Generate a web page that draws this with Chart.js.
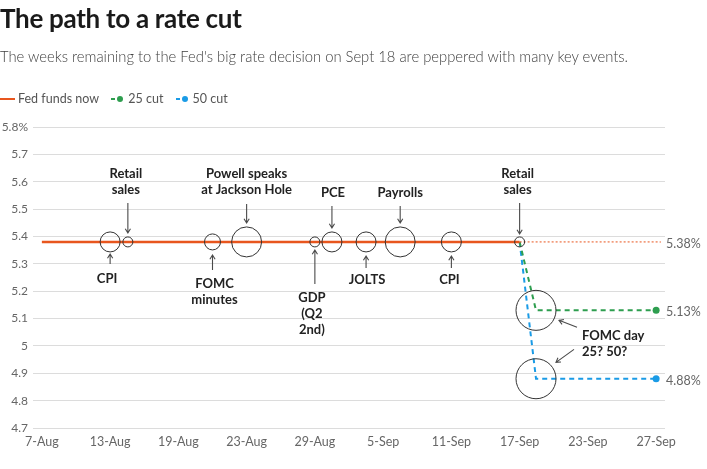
<!DOCTYPE html>
<html>
<head>
<meta charset="utf-8">
<script src="https://cdn.jsdelivr.net/npm/chart.js@4/dist/chart.umd.min.js"></script>
<style>
  body { margin: 0; background: #fff; font-family: Lato, "Noto Sans", sans-serif; }
  #wrap { position: relative; width: 707px; height: 469px; }
  #title { position: absolute; left: 0; top: 2px; font-size: 26px; font-weight: 700; color: #1a1a1a; letter-spacing: -0.3px; }
  #sub { position: absolute; left: 0; top: 47px; font-size: 14.8px; font-weight: 300; color: #404040; }
  #legend { position: absolute; left: 0; top: 90px; font-size: 12.5px; color: #555; white-space: nowrap; }
  #legend span { display: inline-block; vertical-align: middle; }
  .ln { width: 15px; height: 2px; margin-right: 3px; }
  .ds { width: 4px; height: 2px; margin-right: 2px; }
  .dot { width: 6px; height: 6px; border-radius: 3px; margin-right: 5px; }
  .gap { width: 9px; }
  canvas { position: absolute; left: 0; top: 0; }
</style>
</head>
<body>
<div id="wrap">
  <canvas id="chart" width="707" height="469"></canvas>
  <div id="title">The path to a rate cut</div>
  <div id="sub">The weeks remaining to the Fed's big rate decision on Sept 18 are peppered with many key events.</div>
  <div id="legend">
    <span class="ln" style="background:#e8561e"></span><span>Fed funds now</span><span class="gap"></span>
    <span class="ds" style="background:#2e9e4f"></span><span class="dot" style="background:#2e9e4f"></span><span>25 cut</span><span class="gap"></span>
    <span class="ds" style="background:#1a9be6"></span><span class="dot" style="background:#1a9be6"></span><span>50 cut</span>
  </div>
</div>
<script>
// axis labels (equally spaced on the chart)
var xLabels = ['7-Aug', '13-Aug', '19-Aug', '23-Aug', '29-Aug', '5-Sep', '11-Sep', '17-Sep', '23-Sep', '27-Sep'];
var yTicks = [5.8, 5.7, 5.6, 5.5, 5.4, 5.3, 5.2, 5.1, 5.0, 4.9, 4.8, 4.7];

// rates
var rateNow = 5.38;
var rate25 = 5.13;
var rate50 = 4.88;

// paths (x = position on the axis above)
var nowX = [0, 7];
var extX = [7, 9.07];
var cutX = [7, 7.24, 9];
var cut25Y = [rateNow, rate25, rate25];
var cut50Y = [rateNow, rate50, rate50];

// events on the way
var eventNames = ['CPI', 'Retail sales', 'FOMC minutes', 'Powell speaks at Jackson Hole', 'GDP (Q2 2nd)', 'PCE', 'JOLTS', 'Payrolls', 'CPI', 'Retail sales'];
var eventX = [1, 1.26, 2.5, 3, 4, 4.25, 4.75, 5.25, 6, 7];
var eventSize = [10, 5, 8, 15, 5, 10, 10, 15, 10, 5];
var fomcX = 7.24;
var fomcSize = 20;

var orange = '#e8561e', green = '#2e9e4f', blue = '#1a9be6';

function pts(xs, ys) {
  return xs.map((x, i) => ({ x: x, y: Array.isArray(ys) ? ys[i] : ys }));
}

// text + arrows around the event circles, offsets in px from the anchor
var notes = [
  { x: 1.26, y: rateNow, lines: ['Retail', 'sales'], dx: -2, dy: -68, arrow: [0, -39, 0, -9] },
  { x: 1, y: rateNow, lines: ['CPI'], dx: -3, dy: 37, arrow: [0, 22, 0, 12] },
  { x: 2.5, y: rateNow, lines: ['FOMC', 'minutes'], dx: 2, dy: 42, arrow: [0, 28, 0, 13] },
  { x: 3, y: rateNow, lines: ['Powell speaks', 'at Jackson Hole'], dx: 0, dy: -68, arrow: [0, -38, 0, -19] },
  { x: 4, y: rateNow, lines: ['GDP', '(Q2', '2nd)'], dx: -3, dy: 56, arrow: [0, 42, 0, 8] },
  { x: 4.25, y: rateNow, lines: ['PCE'], dx: 1, dy: -49, arrow: [0, -36, 0, -14] },
  { x: 4.75, y: rateNow, lines: ['JOLTS'], dx: 1, dy: 38, arrow: [0, 26, 0, 14] },
  { x: 5.25, y: rateNow, lines: ['Payrolls'], dx: 0, dy: -49, arrow: [0, -36, 0, -19] },
  { x: 6, y: rateNow, lines: ['CPI'], dx: -2, dy: 38, arrow: [0, 26, 0, 14] },
  { x: 7, y: rateNow, lines: ['Retail', 'sales'], dx: -2, dy: -68, arrow: [0, -39, 0, -8] },
  { x: fomcX, y: rate25, lines: ['FOMC day', '25? 50?'], dx: 46, dy: 25, align: 'left',
    arrow: [41, 17, 23, 10], arrow2: [38, 39, 20, 52] }
];

function drawArrow(ctx, x1, y1, x2, y2) {
  var a = Math.atan2(y2 - y1, x2 - x1), h = 5;
  ctx.beginPath();
  ctx.moveTo(x1, y1);
  ctx.lineTo(x2, y2);
  ctx.moveTo(x2 - h * Math.cos(a - 0.55), y2 - h * Math.sin(a - 0.55));
  ctx.lineTo(x2, y2);
  ctx.lineTo(x2 - h * Math.cos(a + 0.55), y2 - h * Math.sin(a + 0.55));
  ctx.stroke();
}

var notesPlugin = {
  id: 'notes',
  afterDatasetsDraw(chart) {
    var ctx = chart.ctx, xs = chart.scales.x, ys = chart.scales.y, area = chart.chartArea;
    ctx.save();
    ctx.strokeStyle = '#4a4a4a';
    ctx.lineWidth = 1.1;
    ctx.fillStyle = '#222';
    ctx.font = 'bold 13px Lato';
    ctx.textBaseline = 'middle';
    notes.forEach(n => {
      var px = xs.getPixelForValue(n.x), py = ys.getPixelForValue(n.y);
      ctx.textAlign = n.align || 'center';
      n.lines.forEach((t, i) => ctx.fillText(t, px + n.dx, py + n.dy + i * 16));
      var a = n.arrow;
      drawArrow(ctx, px + a[0], py + a[1], px + a[2], py + a[3]);
      if (n.arrow2) {
        a = n.arrow2;
        drawArrow(ctx, px + a[0], py + a[1], px + a[2], py + a[3]);
      }
    });
    // end labels on the right
    ctx.font = '12.5px Lato';
    ctx.fillStyle = '#666';
    ctx.textAlign = 'left';
    [rateNow, rate25, rate50].forEach(v => {
      ctx.fillText(v.toFixed(2) + '%', area.right + 1, ys.getPixelForValue(v) + 2);
    });
    ctx.restore();
  }
};

var bubbleStyle = {
  type: 'bubble',
  backgroundColor: 'rgba(0,0,0,0)',
  borderColor: '#333',
  borderWidth: 1,
  hoverRadius: 0,
  hoverBorderWidth: 1
};

new Chart(document.getElementById('chart'), {
  type: 'scatter',
  data: {
    datasets: [
      Object.assign({ label: 'events', data: eventX.map((x, i) => ({ x: x, y: rateNow, r: eventSize[i] })) }, bubbleStyle),
      Object.assign({ label: 'fomc', data: [{ x: fomcX, y: rate25, r: fomcSize }, { x: fomcX, y: rate50, r: fomcSize }] }, bubbleStyle),
      { type: 'line', label: 'Fed funds now', data: pts(nowX, rateNow), borderColor: orange, borderWidth: 2.5, pointRadius: 0 },
      { type: 'line', label: 'now ext', data: pts(extX, rateNow), borderColor: orange, borderWidth: 1, borderDash: [2, 2], pointRadius: 0 },
      { type: 'line', label: '25 cut', data: pts(cutX, cut25Y), borderColor: green, backgroundColor: green, borderWidth: 2, borderDash: [5, 4], pointRadius: [0, 0, 3.5], pointBorderWidth: 0 },
      { type: 'line', label: '50 cut', data: pts(cutX, cut50Y), borderColor: blue, backgroundColor: blue, borderWidth: 2, borderDash: [5, 4], pointRadius: [0, 0, 3.5], pointBorderWidth: 0 }
    ]
  },
  options: {
    responsive: false,
    animation: false,
    events: [],
    layout: { padding: { top: 127, right: 42, bottom: 14, left: 0 } },
    plugins: { legend: { display: false }, tooltip: { enabled: false } },
    scales: {
      x: {
        type: 'linear',
        min: -0.13,
        max: 9.13,
        afterBuildTicks: s => { s.ticks = xLabels.map((_, i) => ({ value: i })); },
        afterFit: s => { s.paddingLeft = 0; s.paddingRight = 0; },
        ticks: {
          callback: v => xLabels[v],
          autoSkip: false,
          maxRotation: 0,
          padding: 6,
          color: '#666',
          font: { family: 'Lato', size: 12.5 }
        },
        grid: { display: false, drawTicks: false },
        border: { display: false }
      },
      y: {
        min: 4.7,
        max: 5.8,
        afterBuildTicks: s => { s.ticks = yTicks.map(v => ({ value: v })); },
        afterFit: s => { s.width = 33; },
        ticks: {
          callback: v => (v === 5.8 ? '5.8%' : String(+v.toFixed(1))),
          padding: 5,
          color: '#666',
          font: { family: 'Lato', size: 12 }
        },
        grid: { color: '#dcdcdc', lineWidth: 1, drawTicks: false },
        border: { display: false }
      }
    }
  },
  plugins: [notesPlugin]
});
</script>
</body>
</html>
